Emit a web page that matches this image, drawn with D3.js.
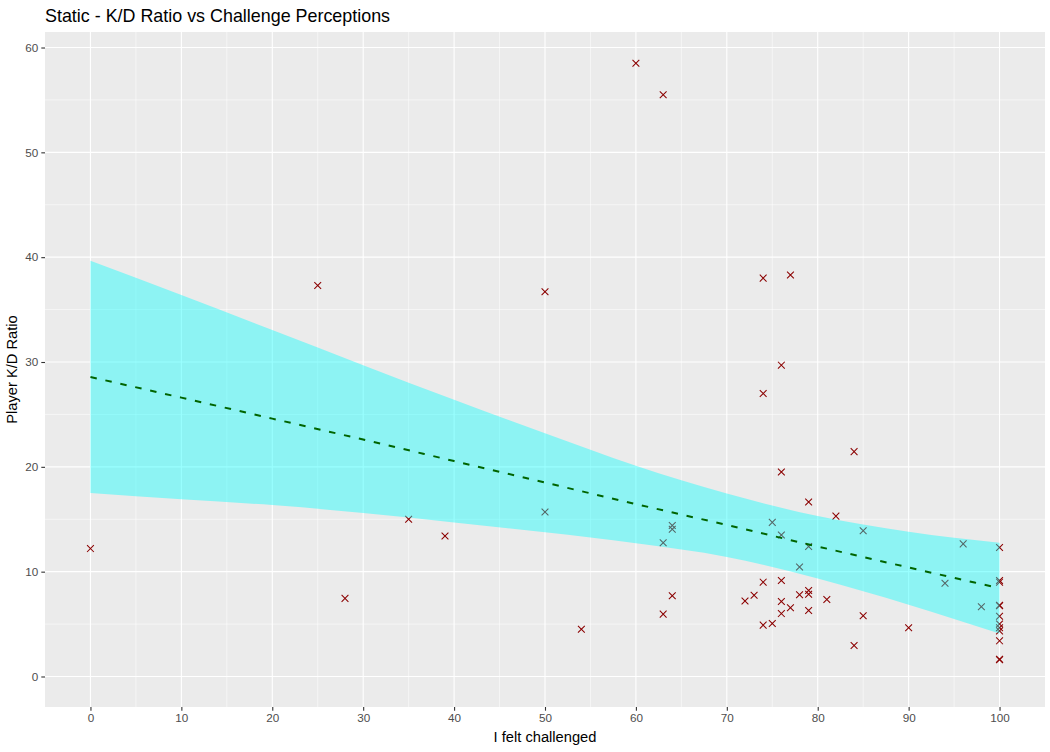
<!DOCTYPE html>
<html>
<head>
<meta charset="utf-8">
<script src="https://cdnjs.cloudflare.com/ajax/libs/d3/7.8.5/d3.min.js"></script>
<style>
    body { margin: 0; background: #ffffff; }
    text { font-family: "Liberation Sans", Arial, sans-serif; }
</style>
</head>
<body>
<div id="chart"></div>
<script>
// Scatter points: "I felt challenged" score and the player's K/D ratio
const challenge = [0, 25, 28, 35, 39, 50, 50, 54, 60, 63,
    74, 77, 76, 74, 84, 76, 79, 64, 64, 63,
    75, 76, 79, 78, 74, 76, 64, 63, 72, 73,
    76, 77, 78, 79, 79, 81, 79, 76, 74, 75,
    82, 85, 96, 100, 94, 100, 100, 98, 100, 100,
    100, 100, 100, 100, 100, 100, 100, 85, 90, 84];
const kdRatio = [12.2, 37.3, 7.45, 15.0, 13.4, 36.7, 15.7, 4.5, 58.5, 55.5,
    38.0, 38.3, 29.7, 27.0, 21.45, 19.5, 16.65, 14.4, 14.05, 12.75,
    14.7, 13.5, 12.4, 10.45, 9.0, 9.15, 7.7, 5.95, 7.2, 7.75,
    7.15, 6.55, 7.8, 8.2, 7.85, 7.35, 6.3, 6.0, 4.9, 5.05,
    15.3, 13.9, 12.65, 12.3, 8.9, 9.15, 9.0, 6.65, 6.8, 6.75,
    5.75, 5.0, 4.65, 4.35, 3.4, 1.65, 1.6, 5.8, 4.65, 2.95];

const bandX = [0, 10, 20, 30, 40, 50, 60, 70, 80, 90, 100];
const fitY = [28.57, 26.6, 24.6, 22.6, 20.55, 18.5, 16.45, 14.45, 12.4, 10.4, 8.42];
const bandLow = [17.5, 16.9, 16.35, 15.6, 14.7, 13.75, 12.7, 11.4, 9.35, 6.85, 4.1];
const bandHigh = [39.65, 36.4, 33.05, 29.7, 26.4, 23.2, 20.1, 17.45, 15.3, 13.8, 12.75];

// Ticks
const xTicks = [0, 10, 20, 30, 40, 50, 60, 70, 80, 90, 100];
const xMinor = [5, 15, 25, 35, 45, 55, 65, 75, 85, 95];
const yTicks = [0, 10, 20, 30, 40, 50, 60];
const yMinor = [5, 15, 25, 35, 45, 55];

// Layout settings
const settings = {
    width: 1050,
    height: 752,
    panel: { left: 45, right: 1045, top: 32, bottom: 707 },
    xDomain: [-5, 105],
    yDomain: [-2.91, 61.48],
    cross: 3.4
};

const svg = d3.select("#chart")
    .append("svg")
    .attr("width", settings.width)
    .attr("height", settings.height);

const x = d3.scaleLinear()
    .domain(settings.xDomain)
    .range([settings.panel.left, settings.panel.right]);
const y = d3.scaleLinear()
    .domain(settings.yDomain)
    .range([settings.panel.bottom, settings.panel.top]);

// Panel background
svg.append("rect")
    .attr("x", settings.panel.left)
    .attr("y", settings.panel.top)
    .attr("width", settings.panel.right - settings.panel.left)
    .attr("height", settings.panel.bottom - settings.panel.top)
    .attr("fill", "#EBEBEB");

// Grid lines, minor then major
const grid = svg.append("g").attr("id", "grid").attr("stroke", "#ffffff");
grid.selectAll(".xminor").data(xMinor).enter().append("line")
    .attr("x1", d => x(d)).attr("x2", d => x(d))
    .attr("y1", settings.panel.top).attr("y2", settings.panel.bottom)
    .attr("stroke-width", 0.55);
grid.selectAll(".yminor").data(yMinor).enter().append("line")
    .attr("y1", d => y(d)).attr("y2", d => y(d))
    .attr("x1", settings.panel.left).attr("x2", settings.panel.right)
    .attr("stroke-width", 0.55);
grid.selectAll(".xmajor").data(xTicks).enter().append("line")
    .attr("x1", d => x(d)).attr("x2", d => x(d))
    .attr("y1", settings.panel.top).attr("y2", settings.panel.bottom)
    .attr("stroke-width", 1.1);
grid.selectAll(".ymajor").data(yTicks).enter().append("line")
    .attr("y1", d => y(d)).attr("y2", d => y(d))
    .attr("x1", settings.panel.left).attr("x2", settings.panel.right)
    .attr("stroke-width", 1.1);

// Points (drawn as crosses)
const points = challenge.map((c, i) => ({ c: c, k: kdRatio[i] }));
const s = settings.cross;
svg.append("g")
    .attr("id", "points")
    .selectAll("path")
    .data(points)
    .enter()
    .append("path")
    .attr("transform", d => "translate(" + x(d.c) + "," + y(d.k) + ")")
    .attr("d", "M" + -s + "," + -s + "L" + s + "," + s + "M" + -s + "," + s + "L" + s + "," + -s)
    .attr("stroke", "#8B0000")
    .attr("stroke-width", 1.05)
    .attr("fill", "none");

// Confidence band
const band = bandX.map((b, i) => ({ x: b, lo: bandLow[i], hi: bandHigh[i], fit: fitY[i] }));
svg.append("path")
    .datum(band)
    .attr("d", d3.area()
        .curve(d3.curveMonotoneX)
        .x(d => x(d.x))
        .y0(d => y(d.lo))
        .y1(d => y(d.hi)))
    .attr("fill", "#00FFFF")
    .attr("fill-opacity", 0.4);

// Trend line
svg.append("path")
    .datum(band)
    .attr("d", d3.line()
        .curve(d3.curveMonotoneX)
        .x(d => x(d.x))
        .y(d => y(d.fit)))
    .attr("fill", "none")
    .attr("stroke", "#006400")
    .attr("stroke-width", 2)
    .attr("stroke-dasharray", "6.5,8.8");

// Axes
const xAxis = svg.append("g")
    .attr("transform", "translate(0," + settings.panel.bottom + ")")
    .call(d3.axisBottom(x).tickValues(xTicks).tickSize(3.7).tickPadding(3));
const yAxis = svg.append("g")
    .attr("transform", "translate(" + settings.panel.left + ",0)")
    .call(d3.axisLeft(y).tickValues(yTicks).tickSize(3.7).tickPadding(3));
[xAxis, yAxis].forEach(a => {
    a.select(".domain").remove();
    a.selectAll(".tick line").attr("stroke", "#333333").attr("stroke-width", 1.1);
    a.selectAll(".tick text")
        .attr("fill", "#4D4D4D")
        .style("font-size", "11.7px")
        .style("font-family", "'Liberation Sans', Arial, sans-serif");
});

// Axis titles
svg.append("text")
    .attr("x", (settings.panel.left + settings.panel.right) / 2)
    .attr("y", 742)
    .attr("text-anchor", "middle")
    .style("font-size", "14.7px")
    .attr("fill", "#000000")
    .text("I felt challenged");
svg.append("text")
    .attr("transform", "translate(17," + (settings.panel.top + settings.panel.bottom) / 2 + ") rotate(-90)")
    .attr("text-anchor", "middle")
    .style("font-size", "14.7px")
    .attr("fill", "#000000")
    .text("Player K/D Ratio");

// Title
svg.append("text")
    .attr("x", settings.panel.left)
    .attr("y", 22)
    .style("font-size", "17.9px")
    .attr("fill", "#000000")
    .text("Static - K/D Ratio vs Challenge Perceptions");
</script>
</body>
</html>
